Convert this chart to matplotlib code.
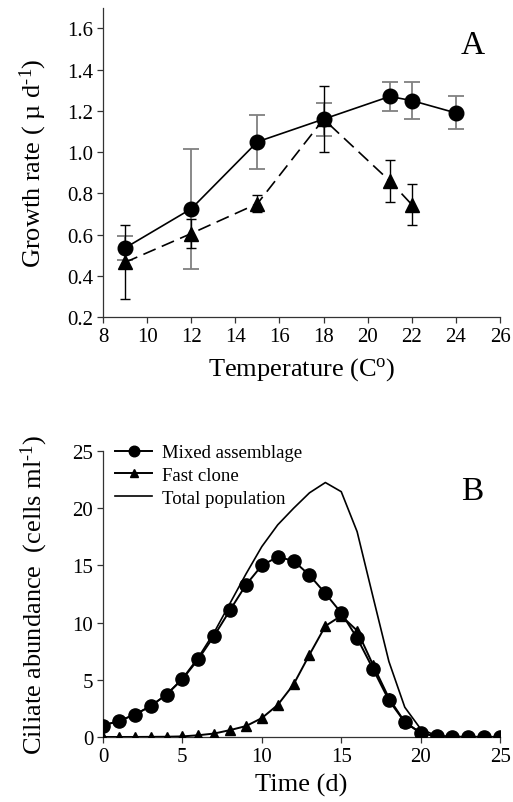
import matplotlib
matplotlib.use("Agg")
import matplotlib.pyplot as plt

plt.rcParams["font.family"] = ["Liberation Serif", "DejaVu Serif"]
plt.rcParams["mathtext.fontset"] = "custom"
plt.rcParams["mathtext.rm"] = "Liberation Serif"
plt.rcParams["mathtext.default"] = "regular"

# panel A: growth rate vs temperature
temp_mixed = [9, 12, 15, 18, 21, 22, 24]
rate_mixed = [0.535, 0.725, 1.05, 1.16, 1.27, 1.25, 1.19]
err_mixed = [0.06, 0.29, 0.13, 0.08, 0.07, 0.09, 0.08]

temp_fast = [9, 12, 15, 18, 21, 22]
rate_fast = [0.465, 0.605, 0.75, 1.16, 0.86, 0.745]
err_fast = [0.18, 0.07, 0.04, 0.16, 0.10, 0.10]

# panel B: abundance over time
days = list(range(26))
mixed = [1.0, 1.4, 1.95, 2.7, 3.7, 5.05, 6.8, 8.85, 11.1, 13.3, 15.0, 15.75, 15.4,
         14.15, 12.55, 10.85, 8.65, 5.95, 3.2, 1.3, 0.35, 0.05, 0.02, 0.01, 0.01, 0.0]
fast = [0.0, 0.0, 0.0, 0.01, 0.02, 0.05, 0.15, 0.3, 0.6, 0.95, 1.65, 2.8, 4.6,
        7.2, 9.7, 10.6, 9.3, 6.3, 3.4, 1.3, 0.35, 0.05, 0.0, 0.0, 0.0, 0.0]
total = [1.0, 1.4, 1.95, 2.7, 3.72, 5.1, 6.95, 9.15, 11.7, 14.25, 16.65, 18.55, 20.0,
         21.35, 22.25, 21.45, 17.95, 12.25, 6.6, 2.6, 0.7, 0.1, 0.02, 0.01, 0.01, 0.0]

fig = plt.figure(figsize=(5.13, 8.03), dpi=100)
axA = fig.add_axes([0.2008, 0.604, 0.774, 0.385])
axB = fig.add_axes([0.2008, 0.081, 0.774, 0.356])

for ax in (axA, axB):
    for s in ("top", "right"):
        ax.spines[s].set_visible(False)
    for s in ("left", "bottom"):
        ax.spines[s].set_linewidth(0.9)
        ax.spines[s].set_color("#333333")
    ax.tick_params(direction="out", length=4, width=0.9, color="#333333",
                   labelsize=15, pad=3)

# --- A ---
axA.errorbar(temp_mixed, rate_mixed, yerr=err_mixed, fmt="none", ecolor="#808080",
             elinewidth=1.3, capsize=5.5, capthick=1.3, zorder=2)
axA.errorbar(temp_fast, rate_fast, yerr=err_fast, fmt="none", ecolor="black",
             elinewidth=1.0, capsize=3.5, capthick=1.0, zorder=2)
axA.plot(temp_mixed, rate_mixed, "-", color="black", lw=1.2, marker="o", ms=10.5, zorder=3)
axA.plot(temp_fast, rate_fast, color="black", lw=1.2, ls=(0, (8, 4)), marker="^", ms=9.5, zorder=3)
axA.set_xlim(8, 26)
axA.set_ylim(0.2, 1.7)
axA.set_xticks(range(8, 27, 2))
axA.set_yticks([0.2, 0.4, 0.6, 0.8, 1.0, 1.2, 1.4, 1.6])
axA.set_yticklabels(["%.1f" % v for v in [0.2, 0.4, 0.6, 0.8, 1.0, 1.2, 1.4, 1.6]])
axA.set_xlabel("Temperature (C$^{o}$)", fontsize=19, labelpad=7)
axA.set_ylabel("Growth rate ( \u00b5 d$^{\u20101}$)", fontsize=19, labelpad=13)
axA.text(0.93, 0.88, "A", transform=axA.transAxes, fontsize=24, ha="center", va="center")

# --- B ---
axB.plot(days, total, "-", color="black", lw=1.2, label="Total population", zorder=2)
axB.plot(days, fast, "-", color="black", lw=1.4, marker="^", ms=7, label="Fast clone", zorder=3)
axB.plot(days, mixed, "-", color="black", lw=1.4, marker="o", ms=9.5, label="Mixed assemblage", zorder=4)
axB.set_xlim(0, 25)
axB.set_ylim(0, 25)
axB.set_xticks(range(0, 26, 5))
axB.set_yticks(range(0, 26, 5))
axB.set_xlabel("Time (d)", fontsize=19, labelpad=5)
axB.set_ylabel("Ciliate abundance  (cells ml$^{\u20101}$)", fontsize=19, labelpad=16)
axB.text(0.93, 0.86, "B", transform=axB.transAxes, fontsize=24, ha="center", va="center")

h, l = axB.get_legend_handles_labels()
order = [2, 1, 0]
leg = axB.legend([h[i] for i in order], [l[i] for i in order], loc="upper left",
                 bbox_to_anchor=(0.03, 1.025), frameon=False, fontsize=13.5,
                 borderpad=0, borderaxespad=0, handlelength=2.0, handletextpad=0.5,
                 labelspacing=0.3, markerscale=0.8)

fig.savefig("out.png", dpi=100)
